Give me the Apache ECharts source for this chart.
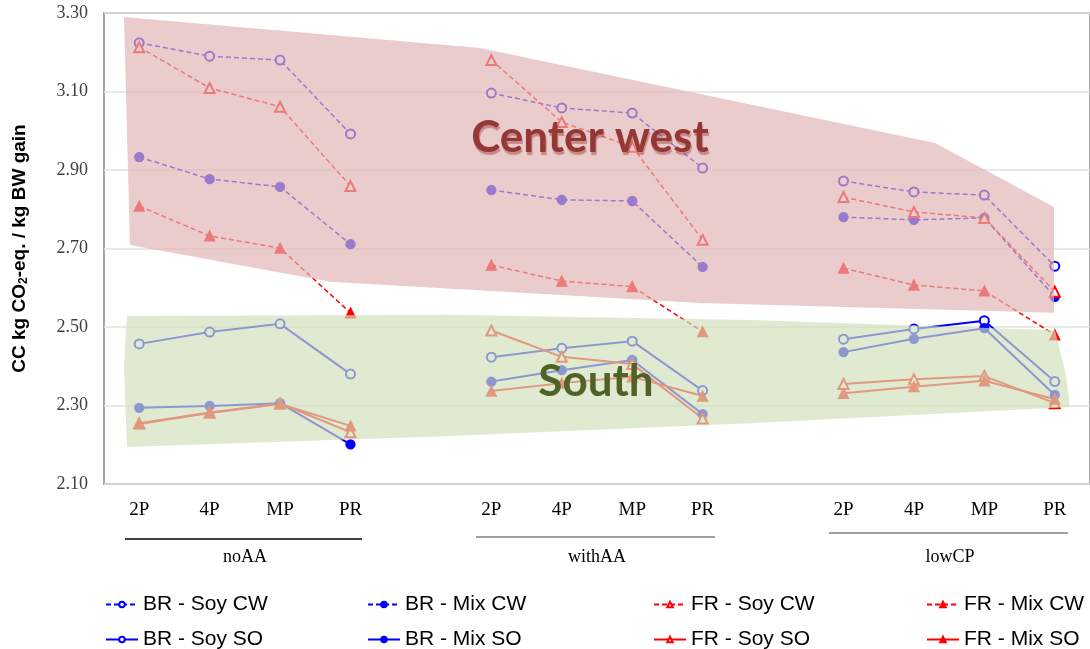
<!DOCTYPE html>
<html><head><meta charset="utf-8">
<script src="https://cdn.jsdelivr.net/npm/echarts@6/dist/echarts.min.js"></script>
<style>html,body{margin:0;padding:0;background:#fff}#c{width:1090px;height:649px}</style>
</head><body><div id="c"></div>
<script>
// ---- data ----
const treatments = ['2P', '4P', 'MP', 'PR'];
const groups = ['noAA', 'withAA', 'lowCP'];
const yTicks = { min: 2.10, max: 3.30, step: 0.20 };

// values per group [noAA, withAA, lowCP], each [2P, 4P, MP, PR]
const brSoyCW = [[3.224, 3.190, 3.180, 2.992], [3.096, 3.058, 3.045, 2.905], [2.872, 2.844, 2.836, 2.655]];
const brMixCW = [[2.933, 2.877, 2.857, 2.711], [2.849, 2.824, 2.821, 2.653], [2.780, 2.773, 2.778, 2.577]];
const frSoyCW = [[3.213, 3.109, 3.061, 2.859], [3.180, 3.022, 2.959, 2.722], [2.831, 2.793, 2.778, 2.590]];
const frMixCW = [[2.808, 2.732, 2.701, 2.536], [2.658, 2.617, 2.603, 2.488], [2.650, 2.607, 2.592, 2.480]];
const brSoySO = [[2.457, 2.487, 2.508, 2.380], [2.423, 2.446, 2.464, 2.338], [2.469, 2.495, 2.516, 2.361]];
const brMixSO = [[2.294, 2.299, 2.306, 2.201], [2.361, 2.390, 2.416, 2.278], [2.436, 2.470, 2.497, 2.327]];
const frSoySO = [[2.255, 2.282, 2.305, 2.232], [2.491, 2.424, 2.406, 2.267], [2.355, 2.367, 2.375, 2.306]];
const frMixSO = [[2.253, 2.281, 2.304, 2.248], [2.337, 2.357, 2.373, 2.324], [2.331, 2.348, 2.363, 2.316]];

// region shading outlines: [slot position, value]
const cwRegion = [[-0.216, 3.290], [4.838, 3.211], [11.299, 2.969], [12.989, 2.806], [12.989, 2.536], [7.963, 2.561], [2.709, 2.615], [-0.131, 2.709]];
const soRegion = [[-0.173, 2.528], [4.413, 2.531], [8.673, 2.518], [13.003, 2.492], [13.159, 2.378], [13.216, 2.296], [8.673, 2.255], [4.413, 2.222], [-0.173, 2.194], [-0.216, 2.398], [-0.187, 2.492]];
const regionNames = ['Center west', 'South'];

// ---- build ----
function flatten(g) { const out = []; g.forEach((a, i) => { if (i > 0) out.push(null); out.push(...a); }); return out; }
const categories = flatten(groups.map(() => treatments)).map(v => v === null ? '' : v);

const BLUE = '#0000FF', RED = '#FF0000';
const defs = [
  { name: 'BR - Soy CW', d: brSoyCW, c: BLUE, dash: true, sym: 'emptyCircle', lx: 100, row: 0 },
  { name: 'BR - Mix CW', d: brMixCW, c: BLUE, dash: true, sym: 'circle', lx: 362, row: 0 },
  { name: 'FR - Soy CW', d: frSoyCW, c: RED, dash: true, sym: 'emptyTriangle', lx: 648, row: 0 },
  { name: 'FR - Mix CW', d: frMixCW, c: RED, dash: true, sym: 'triangle', lx: 921, row: 0 },
  { name: 'BR - Soy SO', d: brSoySO, c: BLUE, dash: false, sym: 'emptyCircle', lx: 100, row: 1 },
  { name: 'BR - Mix SO', d: brMixSO, c: BLUE, dash: false, sym: 'circle', lx: 362, row: 1 },
  { name: 'FR - Soy SO', d: frSoySO, c: RED, dash: false, sym: 'emptyTriangle', lx: 648, row: 1 },
  { name: 'FR - Mix SO', d: frMixSO, c: RED, dash: false, sym: 'triangle', lx: 921, row: 1 }
];

const lineSeries = defs.map(s => ({
  name: s.name, type: 'line', z: 2,
  data: flatten(s.d),
  connectNulls: false,
  symbol: s.sym,
  symbolSize: s.sym.indexOf('ircle') >= 0 ? 9 : 10,
  color: s.c,
  lineStyle: { color: s.c, width: s.dash ? 1.5 : 2, type: s.dash ? [5, 3] : 'solid' },
  itemStyle: { color: s.c, borderColor: s.c, borderWidth: 1.3 },
  emphasis: { disabled: true },
  animation: false
}));

const regionFill = ['rgba(226,180,180,0.68)', 'rgba(210,224,186,0.68)'];
const regions = [cwRegion, soRegion];
const regionSeries = {
  type: 'custom', z: 3, xAxisIndex: 1, yAxisIndex: 0, silent: true, animation: false,
  data: [[0, 2.5], [1, 2.5]],
  renderItem: function (params, api) {
    const pts = regions[params.dataIndex].map(p => api.coord(p));
    return { type: 'polygon', shape: { points: pts }, style: { fill: regionFill[params.dataIndex] } };
  }
};

const legends = defs.map(s => ({
  data: [s.name], left: s.lx, top: s.row === 0 ? 589 : 624,
  itemWidth: 32, itemHeight: 7, itemGap: 4, selectedMode: false,
  textStyle: { fontFamily: 'Liberation Sans', fontSize: 21, color: '#000' }
}));

const groupCenters = [245, 597, 950];
const groupLines = [[125, 362, 539, '#000'], [476, 715, 537, '#7F7F7F'], [829, 1068, 533, '#7F7F7F']];
const graphics = [];
groupLines.forEach(g => graphics.push({ type: 'line', z: 10, shape: { x1: g[0], y1: g[2], x2: g[1], y2: g[2] }, style: { stroke: g[3], lineWidth: 1.6 } }));
groups.forEach((g, i) => graphics.push({ type: 'text', z: 10, x: groupCenters[i], y: 557, style: { text: g, textAlign: 'center', textVerticalAlign: 'middle', font: '18px "Liberation Serif"', fill: '#000' } }));
graphics.push({ type: 'text', z: 100, x: 590, y: 138, style: { text: regionNames[0], textAlign: 'center', textVerticalAlign: 'middle', font: 'bold 44px Lato', fill: '#953735', textShadowColor: 'rgba(149,55,53,0.45)', textShadowOffsetX: 1, textShadowOffsetY: 3, textShadowBlur: 1 } });
graphics.push({ type: 'text', z: 100, x: 596, y: 382, style: { text: regionNames[1], textAlign: 'center', textVerticalAlign: 'middle', font: 'bold 44px Lato', fill: '#4F6228' } });

const chart = echarts.init(document.getElementById('c'));
chart.setOption({
  animation: false,
  backgroundColor: '#fff',
  grid: { left: 104, right: 0, top: 13, bottom: 165, show: true, borderColor: '#A6A6A6', borderWidth: 2, backgroundColor: 'transparent' },
  legend: legends,
  xAxis: [
    { type: 'category', data: categories, boundaryGap: true,
      axisLine: { show: false }, axisTick: { show: false }, splitLine: { show: false },
      axisLabel: { interval: 0, margin: 17, fontFamily: 'Liberation Serif', fontSize: 19, color: '#000' } },
    { type: 'value', min: -0.5, max: 13.5, show: false }
  ],
  yAxis: {
    type: 'value', min: yTicks.min, max: yTicks.max, interval: yTicks.step,
    axisLine: { show: false }, axisTick: { show: false },
    splitLine: { lineStyle: { color: '#E2E2E2', width: 1.5 } },
    axisLabel: { margin: 16, fontFamily: 'Liberation Serif', fontSize: 18, color: '#404040', formatter: v => v.toFixed(2) },
    name: '{t|CC kg CO}{s|2}{t|-eq. / kg BW gain}', nameLocation: 'middle', nameGap: 74,
    nameTextStyle: { rich: {
      t: { fontFamily: 'Liberation Sans', fontWeight: 'bold', fontSize: 19, color: '#000' },
      s: { fontFamily: 'Liberation Sans', fontWeight: 'bold', fontSize: 12, color: '#000', verticalAlign: 'bottom', padding: [9, 0, 0, 0] }
    } }
  },
  graphic: graphics,
  series: lineSeries.concat([regionSeries])
});
</script></body></html>
